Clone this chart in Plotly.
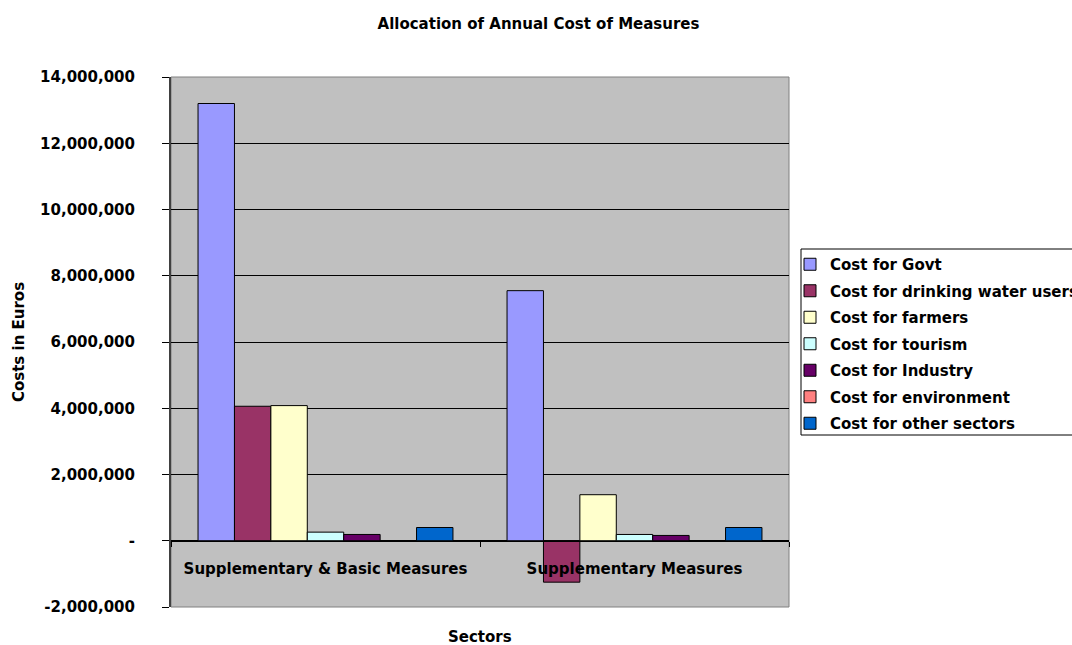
import plotly.graph_objects as go

categories = ["Supplementary & Basic Measures", "Supplementary Measures"]
series_names = ["Cost for Govt", "Cost for drinking water users", "Cost for farmers",
                "Cost for tourism", "Cost for Industry", "Cost for environment",
                "Cost for other sectors"]
govt = [13200000, 7550000]
drinking_water = [4060000, -1250000]
farmers = [4080000, 1390000]
tourism = [260000, 190000]
industry = [190000, 160000]
environment = [0, 0]
other_sectors = [400000, 400000]
series_values = [govt, drinking_water, farmers, tourism, industry, environment, other_sectors]
colors = ["#9999FF", "#993366", "#FFFFCC", "#CCFFFF", "#660066", "#FF8080", "#0066CC"]

y_tickvals = [-2000000, 0, 2000000, 4000000, 6000000, 8000000, 10000000, 12000000, 14000000]
y_ticktext = ["-2,000,000", "-", "2,000,000", "4,000,000", "6,000,000", "8,000,000",
              "10,000,000", "12,000,000", "14,000,000"]

FONT = "DejaVu Sans, Liberation Sans, Arial, sans-serif"
FS = 15

fig = go.Figure()
for i, (name, vals, col) in enumerate(zip(series_names, series_values, colors)):
    fig.add_trace(go.Bar(
        x=categories, y=vals, name=name, legendgroup=f"g{i}",
        marker=dict(color=col, line=dict(color="#000000", width=1)),
    ))

fig.update_layout(
    width=1072, height=645,
    margin=dict(l=171, r=283, t=77, b=38, autoexpand=False),
    paper_bgcolor="white", plot_bgcolor="#C0C0C0",
    font=dict(family=FONT, size=FS, color="#000000", weight="bold"),
    barmode="group", bargap=0.175, bargroupgap=0,
    title=dict(text="Allocation of Annual Cost of Measures", x=538.5 / 1072, xref="container",
               y=1 - 23.5 / 645, yref="container", xanchor="center", yanchor="middle",
               font=dict(size=FS, family=FONT, weight="bold")),
    showlegend=True,
    legend=dict(x=(790 - 171) / 618, xanchor="left", y=(607 - 248) / 530, yanchor="top",
                bgcolor="rgba(0,0,0,0)", borderwidth=0,
                font=dict(size=FS, family=FONT, weight="bold"),
                traceorder="grouped", tracegroupgap=4),
    xaxis=dict(type="category", anchor="free", position=0.125,
               showline=True, linecolor="#000000", linewidth=1,
               ticks="outside", tickson="boundaries", ticklen=5, tickcolor="#000000",
               ticklabelstandoff=14,
               showgrid=False, tickfont=dict(size=FS, family=FONT, weight="bold")),
    yaxis=dict(range=[-2000000, 14000000], tickvals=y_tickvals, ticktext=y_ticktext,
               showline=True, linecolor="#404040", linewidth=2,
               ticks="outside", ticklen=7, tickcolor="#000000", ticklabelstandoff=24,
               showgrid=True, gridcolor="#000000", gridwidth=1, zeroline=False,
               tickfont=dict(size=FS, family=FONT, weight="bold"),
               title=dict(text="Costs in Euros", standoff=12,
                          font=dict(size=FS, family=FONT, weight="bold"))),
    shapes=[
        dict(type="rect", xref="paper", yref="paper", x0=0, x1=1, y0=0, y1=1,
             line=dict(color="#808080", width=1), layer="below"),
        dict(type="rect", xref="paper", yref="paper",
             x0=(801 - 171) / 618, x1=(1080 - 171) / 618,
             y0=(607 - 435) / 530, y1=(607 - 249) / 530,
             line=dict(color="#000000", width=1), fillcolor="white", layer="below"),
    ],
    annotations=[dict(text="Sectors", xref="paper", yref="paper", x=0.5, y=0,
                      xanchor="center", yanchor="top", yshift=-19, showarrow=False,
                      font=dict(size=FS, family=FONT, weight="bold"))],
)

fig.write_html("out.html", config={"displayModeBar": False},
               post_script="document.body.style.margin='0';document.body.style.padding='0';")
